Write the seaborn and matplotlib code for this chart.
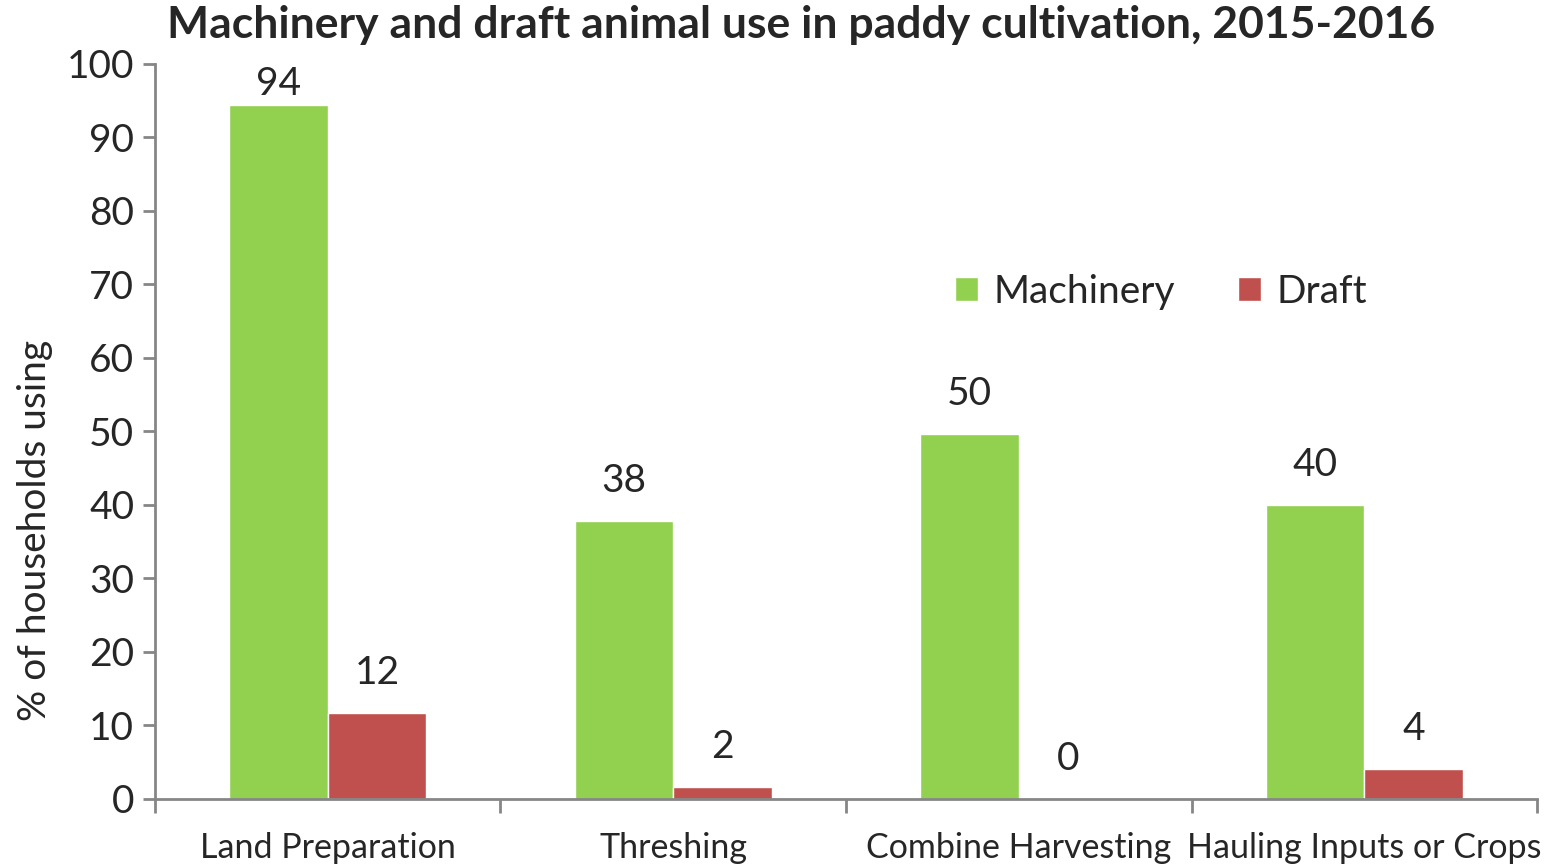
import pandas as pd
import matplotlib.pyplot as plt
import seaborn as sns

# Chart values
categories = ["Land Preparation", "Threshing", "Combine Harvesting", "Hauling Inputs or Crops"]
machinery = [94.4, 37.8, 49.6, 40.0]
draft = [11.7, 1.6, 0.0, 4.1]
series = ["Machinery", "Draft"]

df = pd.DataFrame({
    "task": categories * 2,
    "source": [series[0]] * 4 + [series[1]] * 4,
    "pct": machinery + draft,
})

sns.set_style("white")
plt.rcParams["font.family"] = ["Lato", "DejaVu Sans"]

fig = plt.figure(figsize=(15.56, 8.66), dpi=100)
ax = fig.add_axes([0.0996, 0.0774, 0.8882, 0.8487])

sns.barplot(
    data=df, x="task", y="pct", hue="source",
    palette=["#92D050", "#C0504D"], width=0.57,
    saturation=1, ax=ax, legend=True,
)

ax.set_ylim(0, 100)
ax.set_xlim(-0.5, 3.5)
ax.set_yticks(range(0, 101, 10))
ax.tick_params(axis="y", labelsize=28, length=9, width=2, color="#868686", direction="out", left=True, pad=6)
ax.tick_params(axis="x", labelsize=24.5, length=0, pad=24)
ax.set_xticks([-0.5, 0.5, 1.5, 2.5, 3.5], minor=True)
ax.tick_params(axis="x", which="minor", length=10, width=2, color="#868686", bottom=True)

for side in ["top", "right"]:
    ax.spines[side].set_visible(False)
for side in ["left", "bottom"]:
    ax.spines[side].set_color("#868686")
    ax.spines[side].set_linewidth(2)

ax.set_xlabel("")
ax.set_ylabel("% of households using", fontsize=28)
ax.yaxis.set_label_coords(-0.074, 0.365)

# value labels, pulled down when they would leave the plot area
for cont in ax.containers:
    anns = ax.bar_label(cont, fmt="%.0f", padding=16, fontsize=28)
    for bar, ann in zip(cont, anns):
        if bar.get_height() > 90:
            ann.xyann = (0, 2)

ax.legend(
    loc="center", bbox_to_anchor=(0.728, 0.69), ncol=2, frameon=False,
    fontsize=28, handlelength=0.6, handleheight=0.6, handletextpad=0.4,
    columnspacing=1.6,
)

fig.text(0.515, 0.971, "Machinery and draft animal use in paddy cultivation, 2015-2016",
         ha="center", va="center", fontsize=32, fontweight="bold")

fig.savefig("out.png", dpi=100)
